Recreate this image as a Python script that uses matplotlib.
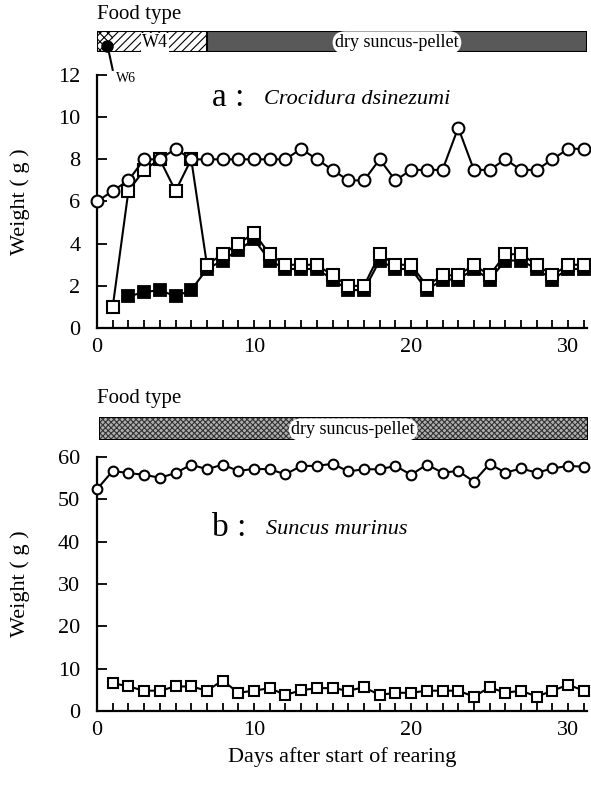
import numpy as np
import matplotlib
matplotlib.use("Agg")
import matplotlib.pyplot as plt
from matplotlib.patches import Rectangle

plt.rcParams['font.family'] = ['Liberation Serif', 'DejaVu Serif']
plt.rcParams['hatch.linewidth'] = 0.8

# panel a: Crocidura dsinezumi
days_a_circ = list(range(0, 32))
a_circ = [6.0, 6.5, 7.0, 8.0, 8.0, 8.5, 8.0, 8.0, 8.0, 8.0, 8.0, 8.0, 8.0, 8.5, 8.0, 7.5,
          7.0, 7.0, 8.0, 7.0, 7.5, 7.5, 7.5, 9.5, 7.5, 7.5, 8.0, 7.5, 7.5, 8.0, 8.5, 8.5]
days_a_open = list(range(1, 32))
a_open = [1.0, 6.5, 7.5, 8.0, 6.5, 8.0, 3.0, 3.5, 4.0, 4.5, 3.5, 3.0, 3.0, 3.0, 2.5, 2.0,
          2.0, 3.5, 3.0, 3.0, 2.0, 2.5, 2.5, 3.0, 2.5, 3.5, 3.5, 3.0, 2.5, 3.0, 3.0]
days_a_fill = list(range(2, 32))
a_fill = [1.5, 1.7, 1.8, 1.5, 1.8, 2.8, 3.2, 3.7, 4.2, 3.2, 2.8, 2.8, 2.8, 2.3, 1.8,
          1.8, 3.2, 2.8, 2.8, 1.8, 2.3, 2.3, 2.8, 2.3, 3.2, 3.2, 2.8, 2.3, 2.8, 2.8]

# panel b: Suncus murinus
days_b_circ = list(range(0, 32))
b_circ = [52.4, 56.7, 56.2, 55.8, 55.1, 56.2, 58.2, 57.1, 58.2, 56.7, 57.2, 57.1, 55.9, 57.9,
          57.9, 58.4, 56.6, 57.1, 57.1, 57.9, 55.8, 58.2, 56.3, 56.7, 54.2, 58.4, 56.3, 57.3,
          56.3, 57.3, 57.9, 57.7]
days_b_sq = list(range(1, 32))
b_sq = [6.6, 5.8, 4.8, 4.8, 5.8, 5.8, 4.8, 7.2, 4.3, 4.8, 5.4, 3.8, 4.9, 5.4, 5.4,
        4.8, 5.6, 3.8, 4.3, 4.3, 4.8, 4.8, 4.8, 3.4, 5.6, 4.3, 4.8, 3.4, 4.8, 6.2, 4.8]

xmax = 31.2
W, H = 591, 798
fig = plt.figure(figsize=(W / 100, H / 100), dpi=100)


def fx(px):
    return px / W


def fy(py):
    return 1 - py / H


def style_axes(ax, ymax, ystep):
    ax.set_xlim(0, xmax)
    ax.set_ylim(0, ymax)
    for s in ['top', 'right']:
        ax.spines[s].set_visible(False)
    for s in ['left', 'bottom']:
        ax.spines[s].set_linewidth(1.6)
    ax.set_xticks(range(0, 32))
    ax.set_xticklabels([str(d) if d % 10 == 0 else '' for d in range(0, 32)])
    ax.set_yticks(np.arange(0, ymax + 0.01, ystep))
    ax.tick_params(axis='x', direction='in', length=6, width=1.3, labelsize=16, pad=7)
    ax.tick_params(axis='y', direction='in', length=7, width=1.3, labelsize=16, pad=12)
    ax.set_ylabel('Weight ( g )', fontsize=16)
    ax.yaxis.set_label_coords(-0.137, 0.5)


mk = dict(color='black', lw=1.5, clip_on=False)

# ---- panel a ----
axa = fig.add_axes([fx(97), fy(328), fx(587 - 97), (328 - 75) / H])
style_axes(axa, 12, 2)
axa.plot(days_a_fill, a_fill, marker='s', ms=9, mfc='black', mec='black', mew=1.3, zorder=3, **mk)
axa.plot(days_a_open, a_open, marker='s', ms=9, mfc='white', mec='black', mew=1.5, zorder=4, **mk)
axa.plot(days_a_circ, a_circ, marker='o', ms=8.5, mfc='white', mec='black', mew=1.5, zorder=5, **mk)
axa.text(0.235, 0.91, 'a :', transform=axa.transAxes, fontsize=24, va='center')
axa.text(0.34, 0.905, 'Crocidura dsinezumi', transform=axa.transAxes, fontsize=16,
         style='italic', va='center')

# food bar a
bara = fig.add_axes([fx(97), fy(52), fx(587 - 97), 21 / H])
bara.set_xlim(0, xmax)
bara.set_ylim(0, 1)
bara.axis('off')
bara.add_patch(Rectangle((0, 0), 1.0, 1, facecolor='white', edgecolor='black', hatch='xxxx', lw=0))
bara.add_patch(Rectangle((1.0, 0), 6.0, 1, facecolor='white', edgecolor='black', hatch='////', lw=0))
bara.add_patch(Rectangle((7.0, 0), xmax - 7.0, 1, facecolor='#595959', edgecolor='none'))
bara.add_patch(Rectangle((0, 0), xmax, 1, fill=False, edgecolor='black', lw=1.5))
bara.plot([7.0, 7.0], [0, 1], color='black', lw=1.5)
bara.text(3.7, 0.45, 'W4', fontsize=13, ha='center', va='center',
          bbox=dict(boxstyle='square,pad=0.05', fc='white', ec='none'))
bara.text(19.1, 0.45, 'dry suncus-pellet', fontsize=13, ha='center', va='center',
          bbox=dict(boxstyle='round,pad=0.15,rounding_size=0.7', fc='white', ec='none'))
bara.plot([0.65], [0.3], marker='o', ms=8, color='black', clip_on=False)
bara.plot([0.7, 1.0], [0.2, -0.85], color='black', lw=1.5, clip_on=False)
fig.text(fx(116), fy(78), 'W6', fontsize=10, va='center')
fig.text(fx(97), fy(14), 'Food type', fontsize=15, va='center')

# ---- panel b ----
axb = fig.add_axes([fx(97), fy(711), fx(587 - 97), (711 - 457) / H])
style_axes(axb, 60, 10)
axb.plot(days_b_sq, b_sq, marker='s', ms=7.5, mfc='white', mec='black', mew=1.5, zorder=4, **mk)
axb.plot(days_b_circ, b_circ, marker='o', ms=7, mfc='white', mec='black', mew=1.5, zorder=5, **mk)
axb.text(0.235, 0.72, 'b :', transform=axb.transAxes, fontsize=24, va='center')
axb.text(0.345, 0.715, 'Suncus murinus', transform=axb.transAxes, fontsize=16,
         style='italic', va='center')
axb.set_xlabel('Days after start of rearing', fontsize=16, labelpad=5)

# food bar b
barb = fig.add_axes([fx(99), fy(440), fx(588 - 99), 23 / H])
barb.set_xlim(0, 1)
barb.set_ylim(0, 1)
barb.axis('off')
barb.add_patch(Rectangle((0, 0), 1, 1, facecolor='#b0b0b0', edgecolor='#333333', hatch='xxxxxx', lw=0))
barb.add_patch(Rectangle((0, 0), 1, 1, fill=False, edgecolor='black', lw=1.5))
barb.text(0.52, 0.45, 'dry suncus-pellet', fontsize=13, ha='center', va='center',
          bbox=dict(boxstyle='round,pad=0.15,rounding_size=0.7', fc='white', ec='none'))
fig.text(fx(97), fy(399), 'Food type', fontsize=15, va='center')

fig.savefig('out.png', dpi=100)
